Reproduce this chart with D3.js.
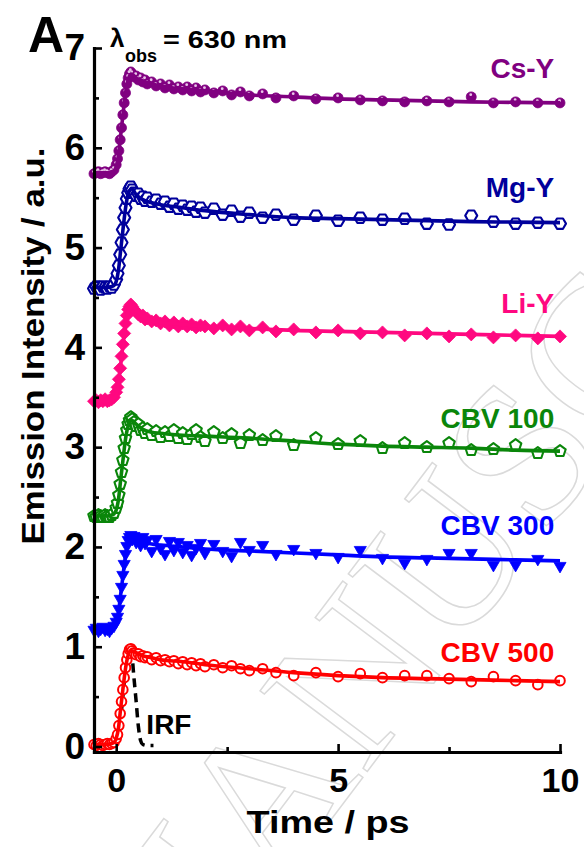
<!DOCTYPE html>
<html lang="en">
<head>
<meta charset="UTF-8">
<title>Emission decay, lambda obs = 630 nm</title>
<script src="https://d3js.org/d3.v7.min.js"></script>
<style>
  body, html { margin: 0; padding: 0; background: #fff; }
  svg { display: block; font-family: 'Liberation Sans', Arial, sans-serif; font-weight: bold; }
</style>
</head>
<body>
<svg id="chart"></svg>
<script>
// time axis of the measured points (ps)
const times = [-0.5,-0.45,-0.4,-0.35,-0.3,-0.25,-0.2,-0.15,-0.1,-0.05,
  0,0.03,0.06,0.09,0.12,0.15,0.18,0.21,0.24,0.27,
  0.3,0.33,0.36,0.4,0.45,0.5,0.55,0.6,0.65,0.7,
  0.8,0.9,1.0,1.1,1.2,1.3,1.4,1.5,1.6,1.7,
  1.8,1.9,2.0,2.2,2.4,2.6,2.8,3.0,3.3,3.6,
  4.0,4.5,5.0,5.5,6.0,6.5,7.0,7.5,8.0,8.5,
  9.0,9.5,10.0];

// measured intensities (offset traces)
const csY = [5.74,5.75,5.76,5.74,5.75,5.76,5.75,5.74,5.76,5.78,
  5.83,5.89,5.97,6.08,6.20,6.33,6.45,6.55,6.64,6.70,
  6.74,6.76,6.74,6.71,6.72,6.68,6.70,6.66,6.68,6.64,
  6.66,6.62,6.64,6.60,6.63,6.59,6.61,6.58,6.61,6.57,
  6.60,6.56,6.58,6.55,6.57,6.53,6.56,6.52,6.54,6.50,
  6.52,6.49,6.50,6.48,6.47,6.46,6.47,6.46,6.51,6.45,
  6.46,6.45,6.45];
const mgY = [4.59,4.61,4.60,4.58,4.61,4.60,4.59,4.61,4.60,4.63,
  4.68,4.74,4.82,4.93,5.05,5.18,5.30,5.40,5.49,5.55,
  5.59,5.61,5.58,5.55,5.52,5.54,5.49,5.51,5.47,5.50,
  5.46,5.48,5.44,5.46,5.41,5.44,5.39,5.42,5.38,5.41,
  5.36,5.40,5.35,5.39,5.33,5.37,5.31,5.35,5.30,5.33,
  5.28,5.32,5.27,5.30,5.28,5.29,5.24,5.23,5.32,5.26,
  5.24,5.25,5.24];
const liY = [3.46,3.47,3.45,3.47,3.46,3.48,3.46,3.47,3.48,3.50,
  3.55,3.60,3.68,3.79,3.91,4.03,4.14,4.24,4.32,4.38,
  4.41,4.43,4.41,4.38,4.36,4.33,4.31,4.32,4.28,4.29,
  4.26,4.27,4.24,4.26,4.22,4.25,4.21,4.24,4.21,4.23,
  4.20,4.22,4.21,4.19,4.22,4.18,4.21,4.17,4.20,4.16,
  4.18,4.15,4.17,4.14,4.15,4.12,4.14,4.11,4.13,4.10,
  4.12,4.09,4.11];
const cbv100 = [2.31,2.30,2.32,2.31,2.30,2.32,2.31,2.30,2.32,2.34,
  2.39,2.44,2.52,2.63,2.75,2.87,2.99,3.09,3.17,3.23,
  3.27,3.30,3.28,3.25,3.21,3.23,3.17,3.19,3.14,3.18,
  3.12,3.16,3.10,3.15,3.11,3.17,3.09,3.14,3.08,3.13,
  3.17,3.10,3.06,3.15,3.09,3.13,3.04,3.12,3.07,3.11,
  3.02,3.09,3.03,3.06,2.99,3.04,3.00,3.04,2.97,2.98,
  3.02,2.94,2.96];
const cbv300 = [1.17,1.19,1.16,1.18,1.20,1.17,1.18,1.16,1.19,1.21,
  1.25,1.30,1.38,1.48,1.60,1.72,1.83,1.93,2.01,2.07,
  2.10,2.12,2.08,2.11,2.05,2.09,2.02,2.10,2.04,2.07,
  1.96,2.08,1.99,1.93,2.06,1.97,2.05,1.95,2.02,1.92,
  1.99,2.04,1.94,2.03,1.96,1.91,2.05,1.97,2.02,1.93,
  1.98,1.94,1.90,1.97,1.89,1.84,1.88,1.94,1.94,1.82,
  1.82,1.88,1.81];
const cbv500 = [0.02,0.01,0.03,0.02,0.01,0.02,0.03,0.02,0.03,0.04,
  0.08,0.12,0.21,0.33,0.45,0.57,0.69,0.79,0.87,0.93,
  0.97,0.98,0.96,0.94,0.92,0.93,0.90,0.91,0.89,0.90,
  0.87,0.89,0.86,0.87,0.85,0.86,0.83,0.85,0.82,0.84,
  0.81,0.83,0.80,0.82,0.79,0.81,0.78,0.76,0.78,0.74,
  0.71,0.74,0.70,0.73,0.69,0.71,0.71,0.68,0.65,0.70,
  0.66,0.62,0.66];

// fitted curves
const fitTimes = [-0.5,-0.2,-0.1,-0.05,0,0.05,0.1,0.15,0.2,0.25,0.3,0.35,0.45,0.6,0.8,1,1.5,2,3,4,5,6,7,8,9,10];
const csYFit = [5.75,5.75,5.76,5.77,5.81,5.92,6.12,6.32,6.51,6.65,6.72,6.74,6.70,6.67,6.64,6.62,6.59,6.57,6.53,6.51,6.49,6.48,6.47,6.46,6.455,6.45];
const mgYFit = [4.60,4.60,4.61,4.62,4.66,4.77,4.97,5.17,5.36,5.50,5.57,5.59,5.53,5.48,5.45,5.43,5.40,5.37,5.33,5.30,5.29,5.28,5.27,5.26,5.255,5.25];
const liYFit = [3.47,3.47,3.48,3.49,3.53,3.63,3.82,4.01,4.19,4.33,4.39,4.41,4.37,4.31,4.27,4.25,4.23,4.21,4.19,4.17,4.16,4.15,4.14,4.13,4.12,4.11];
const cbv100Fit = [2.31,2.31,2.32,2.33,2.37,2.47,2.67,2.86,3.05,3.18,3.25,3.27,3.23,3.18,3.15,3.14,3.12,3.11,3.09,3.06,3.03,3.01,3.00,2.99,2.97,2.96];
const cbv300Fit = [1.18,1.18,1.19,1.20,1.24,1.34,1.52,1.70,1.88,2.01,2.07,2.08,2.07,2.05,2.03,2.02,2.00,1.98,1.96,1.94,1.92,1.90,1.89,1.88,1.87,1.86];
const cbv500Fit = [0.02,0.02,0.03,0.04,0.08,0.18,0.38,0.57,0.75,0.88,0.95,0.96,0.94,0.91,0.89,0.87,0.85,0.82,0.78,0.74,0.71,0.69,0.68,0.67,0.66,0.65];

// instrument response
const irfTimes = [0,0.05,0.1,0.15,0.2,0.25,0.3,0.35,0.4,0.45,0.5,0.55,0.6,0.7,0.84];
const irfValues = [0.02,0.1,0.28,0.5,0.72,0.87,0.94,0.92,0.69,0.45,0.2,0.06,0.02,0.01,0.01];

const xTicks = [0, 5, 10];
const xMinor = [2.5, 7.5];
const yTicks = [0, 1, 2, 3, 4, 5, 6, 7];
const yMinor = [0.5, 1.5, 2.5, 3.5, 4.5, 5.5, 6.5];

const series = [
  {name: "Cs-Y", values: csY, fit: csYFit, color: "#800080", marker: "ball", labelAt: 6.70},
  {name: "Mg-Y", values: mgY, fit: mgYFit, color: "#00009c", marker: "hexagon", labelAt: 5.51},
  {name: "Li-Y", values: liY, fit: liYFit, color: "#ff0880", marker: "diamond", labelAt: 4.34},
  {name: "CBV 100", values: cbv100, fit: cbv100Fit, color: "#0a860a", marker: "pentagon", labelAt: 3.19},
  {name: "CBV 300", values: cbv300, fit: cbv300Fit, color: "#0000ff", marker: "triangle", labelAt: 2.12},
  {name: "CBV 500", values: cbv500, fit: cbv500Fit, color: "#ff0000", marker: "circle", labelAt: 0.85}
];

const W = 584, H = 847;
const svg = d3.select("#chart").attr("width", W).attr("height", H);

const x = d3.scaleLinear().domain([-0.5, 10]).range([94, 560]);
const y = d3.scaleLinear().domain([-0.055, 7]).range([752, 48]);

// faint watermark
svg.append("text")
  .attr("transform", "translate(165,1040) rotate(-53)")
  .attr("font-family", "'Liberation Serif', serif")
  .attr("font-weight", "normal")
  .attr("font-size", 205)
  .attr("fill", "none")
  .attr("stroke", "#dadada")
  .attr("stroke-width", 1.5)
  .text("MANUSCRIPT");

function polygon(n, r, rot) {
  const pts = d3.range(n).map(i => {
    const a = rot + i * 2 * Math.PI / n;
    return [(r * Math.sin(a)).toFixed(2), (-r * Math.cos(a)).toFixed(2)];
  });
  return "M" + pts.join("L") + "Z";
}
const shapes = {
  hexagon: polygon(6, 6, Math.PI / 6),
  pentagon: polygon(5, 6, 0),
  diamond: polygon(4, 6.5, 0),
  triangle: polygon(3, 7, Math.PI)
};

// IRF under the traces
const line = d3.line().x(d => x(d[0])).y(d => y(d[1])).curve(d3.curveMonotoneX);
svg.append("path")
  .datum(d3.zip(irfTimes, irfValues))
  .attr("d", line)
  .attr("fill", "none")
  .attr("stroke", "#000")
  .attr("stroke-width", 3.5)
  .attr("stroke-dasharray", "9,6");

series.forEach(s => {
  const g = svg.append("g");
  const pts = d3.zip(times, s.values);
  const filled = s.marker === "ball" || s.marker === "diamond" || s.marker === "triangle";

  if (s.marker === "ball" || s.marker === "circle") {
    g.selectAll("circle.pt").data(pts).enter().append("circle")
      .attr("class", "pt")
      .attr("cx", d => x(d[0])).attr("cy", d => y(d[1]))
      .attr("r", filled ? 5 : 4.8)
      .attr("fill", filled ? s.color : "#fff")
      .attr("stroke", s.color)
      .attr("stroke-width", filled ? 0.8 : 2);
    if (s.marker === "ball") {
      g.selectAll("circle.hl").data(pts).enter().append("circle")
        .attr("class", "hl")
        .attr("cx", d => x(d[0]) - 0.5).attr("cy", d => y(d[1]) - 2.2)
        .attr("r", 1.4)
        .attr("fill", "#e9c6e9");
    }
  } else {
    g.selectAll("path.pt").data(pts).enter().append("path")
      .attr("class", "pt")
      .attr("transform", d => `translate(${x(d[0])},${y(d[1])})`)
      .attr("d", shapes[s.marker])
      .attr("fill", filled ? s.color : "#fff")
      .attr("stroke", s.color)
      .attr("stroke-width", filled ? 0.8 : 2.1)
      .attr("stroke-linejoin", "round");
  }

  g.append("path")
    .datum(d3.zip(fitTimes, s.fit))
    .attr("d", line)
    .attr("fill", "none")
    .attr("stroke", s.color)
    .attr("stroke-width", 3.6);

  svg.append("text")
    .attr("x", x(9.87))
    .attr("y", y(s.labelAt))
    .attr("text-anchor", "end")
    .attr("font-size", 28)
    .attr("fill", s.color)
    .text(s.name);
});

// axes
function styleAxis(g, fs) {
  g.attr("font-family", "'Liberation Sans', Arial, sans-serif")
   .attr("font-weight", "bold")
   .attr("font-size", fs);
  g.select(".domain").attr("stroke", "#000").attr("stroke-width", 3.2).attr("stroke-linecap", "square");
  g.selectAll(".tick line").attr("stroke", "#000").attr("stroke-width", 2.6);
  g.selectAll(".tick text").attr("fill", "#000");
}

svg.append("g").attr("transform", "translate(94,0)")
  .call(d3.axisLeft(y).tickValues(yMinor).tickSize(-5).tickFormat(""))
  .call(g => g.select(".domain").remove())
  .call(g => styleAxis(g, 10));
svg.append("g").attr("transform", "translate(0,752)")
  .call(d3.axisBottom(x).tickValues(xMinor).tickSize(-5).tickFormat(""))
  .call(g => g.select(".domain").remove())
  .call(g => styleAxis(g, 10));

svg.append("g").attr("transform", "translate(94,0)")
  .call(d3.axisLeft(y).tickValues(yTicks).tickSize(-8).tickSizeOuter(0).tickPadding(9).tickFormat(d3.format("d")))
  .call(g => styleAxis(g, 37));
svg.append("g").attr("transform", "translate(0,752)")
  .call(d3.axisBottom(x).tickValues(xTicks).tickSize(-8).tickSizeOuter(0).tickPadding(16).tickFormat(d3.format("d")))
  .call(g => styleAxis(g, 34));

// titles
svg.append("text")
  .attr("transform", "translate(43.5,346) rotate(-90)")
  .attr("text-anchor", "middle")
  .attr("font-size", 31)
  .attr("textLength", 397)
  .attr("lengthAdjust", "spacingAndGlyphs")
  .text("Emission Intensity / a.u.");

svg.append("text")
  .attr("x", 328).attr("y", 833)
  .attr("text-anchor", "middle")
  .attr("font-size", 32)
  .attr("textLength", 163)
  .attr("lengthAdjust", "spacingAndGlyphs")
  .text("Time / ps");

svg.append("text").attr("x", 28).attr("y", 52).attr("font-size", 50).text("A");

svg.append("text").attr("x", 110).attr("y", 47).attr("font-size", 26).text("λ");
svg.append("text").attr("x", 125).attr("y", 62).attr("font-size", 18).text("obs");
svg.append("text").attr("x", 163).attr("y", 48).attr("font-size", 23)
  .attr("textLength", 124).attr("lengthAdjust", "spacingAndGlyphs")
  .text("= 630 nm");

svg.append("text").attr("x", x(0.68)).attr("y", y(0.13)).attr("font-size", 28).text("IRF");
</script>
</body>
</html>
